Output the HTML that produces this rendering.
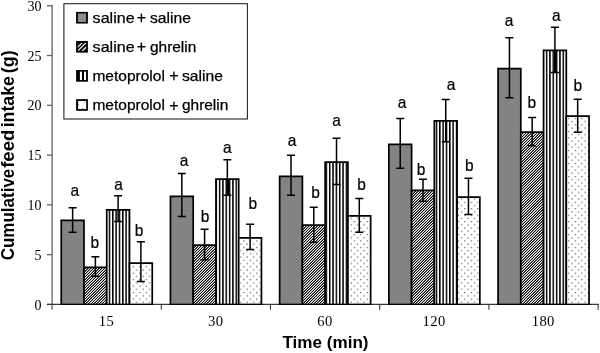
<!DOCTYPE html>
<html><head><meta charset="utf-8"><title>chart</title>
<style>
html,body{margin:0;padding:0;background:#fff;}
svg{display:block;will-change:transform;}
text{font-family:"Liberation Sans",sans-serif;fill:#000;}
.ser{font-family:"Liberation Serif",serif;font-size:14px;}
.xl{font-size:14.6px;letter-spacing:0.35px;}
.lg{font-size:14.3px;stroke:#000;stroke-width:0.25px;}
.lb{font-size:15.5px;text-anchor:middle;stroke:#000;stroke-width:0.2px;}
.ttl{font-weight:bold;font-size:17.5px;}
</style></head><body>
<svg width="600" height="353" viewBox="0 0 600 353">
<defs>
<pattern id="hatch" patternUnits="userSpaceOnUse" width="11" height="11" x="0" y="0"><g shape-rendering="crispEdges"><rect x="0" y="0" width="1" height="1" fill="#7b7b7b"/><rect x="1" y="0" width="1" height="1" fill="#050505"/><rect x="2" y="0" width="1" height="1" fill="#ffffff"/><rect x="3" y="0" width="1" height="1" fill="#222222"/><rect x="4" y="0" width="1" height="1" fill="#555555"/><rect x="5" y="0" width="1" height="1" fill="#ffffff"/><rect x="6" y="0" width="1" height="1" fill="#000000"/><rect x="7" y="0" width="1" height="1" fill="#b3b3b3"/><rect x="8" y="0" width="1" height="1" fill="#d5d5d5"/><rect x="9" y="0" width="1" height="1" fill="#000000"/><rect x="10" y="0" width="1" height="1" fill="#ffffff"/><rect x="0" y="1" width="1" height="1" fill="#050505"/><rect x="1" y="1" width="1" height="1" fill="#ffffff"/><rect x="2" y="1" width="1" height="1" fill="#222222"/><rect x="3" y="1" width="1" height="1" fill="#555555"/><rect x="4" y="1" width="1" height="1" fill="#ffffff"/><rect x="5" y="1" width="1" height="1" fill="#000000"/><rect x="6" y="1" width="1" height="1" fill="#b3b3b3"/><rect x="7" y="1" width="1" height="1" fill="#d5d5d5"/><rect x="8" y="1" width="1" height="1" fill="#000000"/><rect x="9" y="1" width="1" height="1" fill="#ffffff"/><rect x="10" y="1" width="1" height="1" fill="#7b7b7b"/><rect x="0" y="2" width="1" height="1" fill="#ffffff"/><rect x="1" y="2" width="1" height="1" fill="#222222"/><rect x="2" y="2" width="1" height="1" fill="#555555"/><rect x="3" y="2" width="1" height="1" fill="#ffffff"/><rect x="4" y="2" width="1" height="1" fill="#000000"/><rect x="5" y="2" width="1" height="1" fill="#b3b3b3"/><rect x="6" y="2" width="1" height="1" fill="#d5d5d5"/><rect x="7" y="2" width="1" height="1" fill="#000000"/><rect x="8" y="2" width="1" height="1" fill="#ffffff"/><rect x="9" y="2" width="1" height="1" fill="#7b7b7b"/><rect x="10" y="2" width="1" height="1" fill="#050505"/><rect x="0" y="3" width="1" height="1" fill="#222222"/><rect x="1" y="3" width="1" height="1" fill="#555555"/><rect x="2" y="3" width="1" height="1" fill="#ffffff"/><rect x="3" y="3" width="1" height="1" fill="#000000"/><rect x="4" y="3" width="1" height="1" fill="#b3b3b3"/><rect x="5" y="3" width="1" height="1" fill="#d5d5d5"/><rect x="6" y="3" width="1" height="1" fill="#000000"/><rect x="7" y="3" width="1" height="1" fill="#ffffff"/><rect x="8" y="3" width="1" height="1" fill="#7b7b7b"/><rect x="9" y="3" width="1" height="1" fill="#050505"/><rect x="10" y="3" width="1" height="1" fill="#ffffff"/><rect x="0" y="4" width="1" height="1" fill="#555555"/><rect x="1" y="4" width="1" height="1" fill="#ffffff"/><rect x="2" y="4" width="1" height="1" fill="#000000"/><rect x="3" y="4" width="1" height="1" fill="#b3b3b3"/><rect x="4" y="4" width="1" height="1" fill="#d5d5d5"/><rect x="5" y="4" width="1" height="1" fill="#000000"/><rect x="6" y="4" width="1" height="1" fill="#ffffff"/><rect x="7" y="4" width="1" height="1" fill="#7b7b7b"/><rect x="8" y="4" width="1" height="1" fill="#050505"/><rect x="9" y="4" width="1" height="1" fill="#ffffff"/><rect x="10" y="4" width="1" height="1" fill="#222222"/><rect x="0" y="5" width="1" height="1" fill="#ffffff"/><rect x="1" y="5" width="1" height="1" fill="#000000"/><rect x="2" y="5" width="1" height="1" fill="#b3b3b3"/><rect x="3" y="5" width="1" height="1" fill="#d5d5d5"/><rect x="4" y="5" width="1" height="1" fill="#000000"/><rect x="5" y="5" width="1" height="1" fill="#ffffff"/><rect x="6" y="5" width="1" height="1" fill="#7b7b7b"/><rect x="7" y="5" width="1" height="1" fill="#050505"/><rect x="8" y="5" width="1" height="1" fill="#ffffff"/><rect x="9" y="5" width="1" height="1" fill="#222222"/><rect x="10" y="5" width="1" height="1" fill="#555555"/><rect x="0" y="6" width="1" height="1" fill="#000000"/><rect x="1" y="6" width="1" height="1" fill="#b3b3b3"/><rect x="2" y="6" width="1" height="1" fill="#d5d5d5"/><rect x="3" y="6" width="1" height="1" fill="#000000"/><rect x="4" y="6" width="1" height="1" fill="#ffffff"/><rect x="5" y="6" width="1" height="1" fill="#7b7b7b"/><rect x="6" y="6" width="1" height="1" fill="#050505"/><rect x="7" y="6" width="1" height="1" fill="#ffffff"/><rect x="8" y="6" width="1" height="1" fill="#222222"/><rect x="9" y="6" width="1" height="1" fill="#555555"/><rect x="10" y="6" width="1" height="1" fill="#ffffff"/><rect x="0" y="7" width="1" height="1" fill="#b3b3b3"/><rect x="1" y="7" width="1" height="1" fill="#d5d5d5"/><rect x="2" y="7" width="1" height="1" fill="#000000"/><rect x="3" y="7" width="1" height="1" fill="#ffffff"/><rect x="4" y="7" width="1" height="1" fill="#7b7b7b"/><rect x="5" y="7" width="1" height="1" fill="#050505"/><rect x="6" y="7" width="1" height="1" fill="#ffffff"/><rect x="7" y="7" width="1" height="1" fill="#222222"/><rect x="8" y="7" width="1" height="1" fill="#555555"/><rect x="9" y="7" width="1" height="1" fill="#ffffff"/><rect x="10" y="7" width="1" height="1" fill="#000000"/><rect x="0" y="8" width="1" height="1" fill="#d5d5d5"/><rect x="1" y="8" width="1" height="1" fill="#000000"/><rect x="2" y="8" width="1" height="1" fill="#ffffff"/><rect x="3" y="8" width="1" height="1" fill="#7b7b7b"/><rect x="4" y="8" width="1" height="1" fill="#050505"/><rect x="5" y="8" width="1" height="1" fill="#ffffff"/><rect x="6" y="8" width="1" height="1" fill="#222222"/><rect x="7" y="8" width="1" height="1" fill="#555555"/><rect x="8" y="8" width="1" height="1" fill="#ffffff"/><rect x="9" y="8" width="1" height="1" fill="#000000"/><rect x="10" y="8" width="1" height="1" fill="#b3b3b3"/><rect x="0" y="9" width="1" height="1" fill="#000000"/><rect x="1" y="9" width="1" height="1" fill="#ffffff"/><rect x="2" y="9" width="1" height="1" fill="#7b7b7b"/><rect x="3" y="9" width="1" height="1" fill="#050505"/><rect x="4" y="9" width="1" height="1" fill="#ffffff"/><rect x="5" y="9" width="1" height="1" fill="#222222"/><rect x="6" y="9" width="1" height="1" fill="#555555"/><rect x="7" y="9" width="1" height="1" fill="#ffffff"/><rect x="8" y="9" width="1" height="1" fill="#000000"/><rect x="9" y="9" width="1" height="1" fill="#b3b3b3"/><rect x="10" y="9" width="1" height="1" fill="#d5d5d5"/><rect x="0" y="10" width="1" height="1" fill="#ffffff"/><rect x="1" y="10" width="1" height="1" fill="#7b7b7b"/><rect x="2" y="10" width="1" height="1" fill="#050505"/><rect x="3" y="10" width="1" height="1" fill="#ffffff"/><rect x="4" y="10" width="1" height="1" fill="#222222"/><rect x="5" y="10" width="1" height="1" fill="#555555"/><rect x="6" y="10" width="1" height="1" fill="#ffffff"/><rect x="7" y="10" width="1" height="1" fill="#000000"/><rect x="8" y="10" width="1" height="1" fill="#b3b3b3"/><rect x="9" y="10" width="1" height="1" fill="#d5d5d5"/><rect x="10" y="10" width="1" height="1" fill="#000000"/></g></pattern>
<pattern id="vstripe" patternUnits="userSpaceOnUse" width="3.337" height="8" x="1.92" y="0">
<rect width="3.337" height="8" fill="#fff"/><rect x="0" y="0" width="1.5" height="8" fill="#000"/>
</pattern>
<pattern id="dots" patternUnits="userSpaceOnUse" width="6.5" height="6.45" x="2.75" y="1.75">
<rect width="6.5" height="6.45" fill="#fff"/>
<rect x="0" y="0" width="1.15" height="1.15" fill="#505050"/>
<rect x="3.3" y="3.2" width="1.15" height="1.15" fill="#505050"/>
</pattern>
</defs>
<rect width="600" height="353" fill="#fff"/>

<g stroke="#5e5e5e" stroke-width="1.25" fill="none">
<line x1="52.1" y1="5" x2="52.1" y2="309.5"/>
<line x1="46.9" y1="304.45" x2="52.1" y2="304.45"/>
<line x1="46.9" y1="254.67" x2="52.1" y2="254.67"/>
<line x1="46.9" y1="204.89" x2="52.1" y2="204.89"/>
<line x1="46.9" y1="155.11" x2="52.1" y2="155.11"/>
<line x1="46.9" y1="105.33" x2="52.1" y2="105.33"/>
<line x1="46.9" y1="55.55" x2="52.1" y2="55.55"/>
<line x1="46.9" y1="5.77" x2="52.1" y2="5.77"/>
</g>
<g stroke="#383838" stroke-width="1.1" fill="none">
<line x1="161.30" y1="304.3" x2="161.30" y2="309.7"/>
<line x1="270.50" y1="304.3" x2="270.50" y2="309.7"/>
<line x1="379.70" y1="304.3" x2="379.70" y2="309.7"/>
<line x1="488.90" y1="304.3" x2="488.90" y2="309.7"/>
<line x1="598.10" y1="304.3" x2="598.10" y2="309.7"/>
</g>
<text class="ser" x="41.5" y="309.50" text-anchor="end">0</text>
<text class="ser" x="41.5" y="259.72" text-anchor="end">5</text>
<text class="ser" x="41.5" y="209.94" text-anchor="end">10</text>
<text class="ser" x="41.5" y="160.16" text-anchor="end">15</text>
<text class="ser" x="41.5" y="110.38" text-anchor="end">20</text>
<text class="ser" x="41.5" y="60.60" text-anchor="end">25</text>
<text class="ser" x="41.5" y="10.82" text-anchor="end">30</text>
<text class="ser xl" x="106.50" y="325.6" text-anchor="middle">15</text>
<text class="ser xl" x="215.70" y="325.6" text-anchor="middle">30</text>
<text class="ser xl" x="324.90" y="325.6" text-anchor="middle">60</text>
<text class="ser xl" x="434.10" y="325.6" text-anchor="middle">120</text>
<text class="ser xl" x="543.30" y="325.6" text-anchor="middle">180</text>
<rect x="61.25" y="220.40" width="22.75" height="83.90" fill="#838383"/>
<path d="M61.25 304.7 V220.40 H84.00 V304.7" fill="none" stroke="#000" stroke-width="1.7"/>
<rect x="84.00" y="267.30" width="22.75" height="37.00" fill="url(#hatch)"/>
<path d="M84.00 304.7 V267.30 H106.75 V304.7" fill="none" stroke="#000" stroke-width="1.7"/>
<rect x="106.75" y="209.80" width="22.75" height="94.50" fill="url(#vstripe)"/>
<path d="M106.75 304.7 V209.80 H129.50 V304.7" fill="none" stroke="#000" stroke-width="1.7"/>
<rect x="129.50" y="263.20" width="22.75" height="41.10" fill="url(#dots)"/>
<path d="M129.50 304.7 V263.20 H152.25 V304.7" fill="none" stroke="#000" stroke-width="1.7"/>
<rect x="170.45" y="196.40" width="22.75" height="107.90" fill="#838383"/>
<path d="M170.45 304.7 V196.40 H193.20 V304.7" fill="none" stroke="#000" stroke-width="1.7"/>
<rect x="193.20" y="245.20" width="22.75" height="59.10" fill="url(#hatch)"/>
<path d="M193.20 304.7 V245.20 H215.95 V304.7" fill="none" stroke="#000" stroke-width="1.7"/>
<rect x="215.95" y="179.20" width="22.75" height="125.10" fill="url(#vstripe)"/>
<path d="M215.95 304.7 V179.20 H238.70 V304.7" fill="none" stroke="#000" stroke-width="1.7"/>
<rect x="238.70" y="237.80" width="22.75" height="66.50" fill="url(#dots)"/>
<path d="M238.70 304.7 V237.80 H261.45 V304.7" fill="none" stroke="#000" stroke-width="1.7"/>
<rect x="279.65" y="176.40" width="22.75" height="127.90" fill="#838383"/>
<path d="M279.65 304.7 V176.40 H302.40 V304.7" fill="none" stroke="#000" stroke-width="1.7"/>
<rect x="302.40" y="225.20" width="22.75" height="79.10" fill="url(#hatch)"/>
<path d="M302.40 304.7 V225.20 H325.15 V304.7" fill="none" stroke="#000" stroke-width="1.7"/>
<rect x="325.15" y="162.20" width="22.75" height="142.10" fill="url(#vstripe)"/>
<path d="M325.15 304.7 V162.20 H347.90 V304.7" fill="none" stroke="#000" stroke-width="1.7"/>
<rect x="347.90" y="215.80" width="22.75" height="88.50" fill="url(#dots)"/>
<path d="M347.90 304.7 V215.80 H370.65 V304.7" fill="none" stroke="#000" stroke-width="1.7"/>
<rect x="388.85" y="144.40" width="22.75" height="159.90" fill="#838383"/>
<path d="M388.85 304.7 V144.40 H411.60 V304.7" fill="none" stroke="#000" stroke-width="1.7"/>
<rect x="411.60" y="190.40" width="22.75" height="113.90" fill="url(#hatch)"/>
<path d="M411.60 304.7 V190.40 H434.35 V304.7" fill="none" stroke="#000" stroke-width="1.7"/>
<rect x="434.35" y="120.80" width="22.75" height="183.50" fill="url(#vstripe)"/>
<path d="M434.35 304.7 V120.80 H457.10 V304.7" fill="none" stroke="#000" stroke-width="1.7"/>
<rect x="457.10" y="197.20" width="22.75" height="107.10" fill="url(#dots)"/>
<path d="M457.10 304.7 V197.20 H479.85 V304.7" fill="none" stroke="#000" stroke-width="1.7"/>
<rect x="498.05" y="68.60" width="22.75" height="235.70" fill="#838383"/>
<path d="M498.05 304.7 V68.60 H520.80 V304.7" fill="none" stroke="#000" stroke-width="1.7"/>
<rect x="520.80" y="132.20" width="22.75" height="172.10" fill="url(#hatch)"/>
<path d="M520.80 304.7 V132.20 H543.55 V304.7" fill="none" stroke="#000" stroke-width="1.7"/>
<rect x="543.55" y="50.40" width="22.75" height="253.90" fill="url(#vstripe)"/>
<path d="M543.55 304.7 V50.40 H566.30 V304.7" fill="none" stroke="#000" stroke-width="1.7"/>
<rect x="566.30" y="116.20" width="22.75" height="188.10" fill="url(#dots)"/>
<path d="M566.30 304.7 V116.20 H589.05 V304.7" fill="none" stroke="#000" stroke-width="1.7"/>
<line x1="46.9" y1="304.4" x2="599" y2="304.4" stroke="#3a3a3a" stroke-width="1.1"/>
<rect x="226.9" y="179.5" width="2.2" height="15.5" fill="#000"/>
<rect x="553.9" y="50.5" width="2.2" height="22" fill="#000"/>
<line x1="60.40" y1="304.3" x2="153.10" y2="304.3" stroke="#000" stroke-width="1.35"/>
<line x1="169.60" y1="304.3" x2="262.30" y2="304.3" stroke="#000" stroke-width="1.35"/>
<line x1="278.80" y1="304.3" x2="371.50" y2="304.3" stroke="#000" stroke-width="1.35"/>
<line x1="388.00" y1="304.3" x2="480.70" y2="304.3" stroke="#000" stroke-width="1.35"/>
<line x1="497.20" y1="304.3" x2="589.90" y2="304.3" stroke="#000" stroke-width="1.35"/>
<g stroke="#000" stroke-width="1.5" fill="none">
<path d="M68.62 207.79999999999998 H76.62 M68.62 232.2 H76.62 M72.62 207.79999999999998 V232.2"/>
<path d="M91.38 256.8 H99.38 M91.38 276.2 H99.38 M95.38 256.8 V276.2"/>
<path d="M114.12 195.79999999999998 H122.12 M114.12 221.6 H122.12 M118.12 195.79999999999998 V221.6"/>
<path d="M136.88 241.79999999999998 H144.88 M136.88 281.59999999999997 H144.88 M140.88 241.79999999999998 V281.59999999999997"/>
<path d="M177.83 173.6 H185.83 M177.83 216.6 H185.83 M181.83 173.6 V216.6"/>
<path d="M200.58 229.2 H208.58 M200.58 259.8 H208.58 M204.58 229.2 V259.8"/>
<path d="M223.33 159.79999999999998 H231.33 M223.33 195.2 H231.33 M227.33 159.79999999999998 V195.2"/>
<path d="M246.08 224.2 H254.08 M246.08 249.6 H254.08 M250.08 224.2 V249.6"/>
<path d="M287.02 155.2 H295.02 M287.02 195.2 H295.02 M291.02 155.2 V195.2"/>
<path d="M309.77 207.2 H317.77 M309.77 242.2 H317.77 M313.77 207.2 V242.2"/>
<path d="M332.52 138.2 H340.52 M332.52 184.6 H340.52 M336.52 138.2 V184.6"/>
<path d="M355.27 198.6 H363.27 M355.27 232.2 H363.27 M359.27 198.6 V232.2"/>
<path d="M396.23 118.60000000000001 H404.23 M396.23 168.2 H404.23 M400.23 118.60000000000001 V168.2"/>
<path d="M418.98 179.2 H426.98 M418.98 201.2 H426.98 M422.98 179.2 V201.2"/>
<path d="M441.73 99.60000000000001 H449.73 M441.73 141.79999999999998 H449.73 M445.73 99.60000000000001 V141.79999999999998"/>
<path d="M464.48 178.2 H472.48 M464.48 214.6 H472.48 M468.48 178.2 V214.6"/>
<path d="M505.43 37.800000000000004 H513.42 M505.43 97.8 H513.42 M509.43 37.800000000000004 V97.8"/>
<path d="M528.17 117.4 H536.17 M528.17 145.79999999999998 H536.17 M532.17 117.4 V145.79999999999998"/>
<path d="M550.92 27.2 H558.92 M550.92 72.60000000000001 H558.92 M554.92 27.2 V72.60000000000001"/>
<path d="M573.67 99.2 H581.67 M573.67 132.2 H581.67 M577.67 99.2 V132.2"/>
</g>
<text class="lb" transform="translate(74.8,196.4) scale(1,1.12)">a</text>
<text class="lb" transform="translate(94.8,248.4) scale(1,1.12)">b</text>
<text class="lb" transform="translate(118.5,190.4) scale(1,1.12)">a</text>
<text class="lb" transform="translate(139,236.4) scale(1,1.12)">b</text>
<text class="lb" transform="translate(184,166.0) scale(1,1.12)">a</text>
<text class="lb" transform="translate(205.1,221.8) scale(1,1.12)">b</text>
<text class="lb" transform="translate(227.4,153.4) scale(1,1.12)">a</text>
<text class="lb" transform="translate(252.9,209.4) scale(1,1.12)">b</text>
<text class="lb" transform="translate(292,146.0) scale(1,1.12)">a</text>
<text class="lb" transform="translate(315.5,197.8) scale(1,1.12)">b</text>
<text class="lb" transform="translate(336.5,126.0) scale(1,1.12)">a</text>
<text class="lb" transform="translate(361.5,190.4) scale(1,1.12)">b</text>
<text class="lb" transform="translate(402,108.0) scale(1,1.12)">a</text>
<text class="lb" transform="translate(421.1,175.4) scale(1,1.12)">b</text>
<text class="lb" transform="translate(451,90.4) scale(1,1.12)">a</text>
<text class="lb" transform="translate(469.3,171.4) scale(1,1.12)">b</text>
<text class="lb" transform="translate(509,26.4) scale(1,1.12)">a</text>
<text class="lb" transform="translate(531.9,108.0) scale(1,1.12)">b</text>
<text class="lb" transform="translate(556.4,21.4) scale(1,1.12)">a</text>
<text class="lb" transform="translate(577.9,91.4) scale(1,1.12)">b</text>
<rect x="63.9" y="3.7" width="183.5" height="115.3" fill="#fff" stroke="#1c1c1c" stroke-width="1.05"/>
<rect x="76.1" y="11.90" width="11.8" height="11.65" fill="#000"/>
<rect x="77.9" y="13.50" width="8.2" height="8.5" fill="#8c8c8c"/>
<text class="lg" x="92.6" y="22.6" textLength="42" lengthAdjust="spacingAndGlyphs">saline</text>
<text class="lg" style="font-size:16px" x="136.7" y="23.0">+</text>
<text class="lg" x="150" y="22.6" textLength="41" lengthAdjust="spacingAndGlyphs">saline</text>
<rect x="76.1" y="40.98" width="11.8" height="11.65" fill="#000"/>
<clipPath id="sw2"><rect x="77.7" y="42.88" width="8.5" height="8.1"/></clipPath>
<g clip-path="url(#sw2)" stroke="#fff" stroke-width="1.15"><path d="M77.2 47.58 L82.4 42.58 M78 50.58 L86.2 42.58 M81.8 51.38 L86.5 46.78"/></g>
<text class="lg" x="92.6" y="51.8" textLength="42" lengthAdjust="spacingAndGlyphs">saline</text>
<text class="lg" style="font-size:16px" x="136.7" y="52.2">+</text>
<text class="lg" x="150" y="51.8" textLength="46.3" lengthAdjust="spacingAndGlyphs">ghrelin</text>
<rect x="76.1" y="70.06" width="11.8" height="11.65" fill="#000"/>
<rect x="79.9" y="71.66" width="2.05" height="8.4" fill="#fff"/>
<rect x="84.0" y="71.66" width="2.05" height="8.4" fill="#fff"/>
<text class="lg" x="92.4" y="80.9" textLength="72.5" lengthAdjust="spacingAndGlyphs">metoprolol</text>
<text class="lg" style="font-size:16px" x="169.3" y="81.3">+</text>
<text class="lg" x="182" y="80.9" textLength="41" lengthAdjust="spacingAndGlyphs">saline</text>
<rect x="76.1" y="99.14" width="11.8" height="11.65" fill="#000"/>
<rect x="78.1" y="100.94" width="8.1" height="8.1" fill="#fff"/>
<rect x="83.6" y="101.74" width="1.2" height="1" fill="#777"/><rect x="78.1" y="104.14" width="0.8" height="1" fill="#555"/><rect x="82" y="108.34" width="1" height="0.8" fill="#555"/>
<text class="lg" x="92.4" y="110.1" textLength="72.5" lengthAdjust="spacingAndGlyphs">metoprolol</text>
<text class="lg" style="font-size:16px" x="169.3" y="110.5">+</text>
<text class="lg" x="182" y="110.1" textLength="46.3" lengthAdjust="spacingAndGlyphs">ghrelin</text>
<text class="ttl" style="font-size:17px" x="282.5" y="348" textLength="86" lengthAdjust="spacingAndGlyphs">Time (min)</text>
<g transform="translate(14.3,0) rotate(-90)">
<text class="ttl" x="-260.30" y="0" textLength="91.60" lengthAdjust="spacingAndGlyphs">Cumulative</text>
<text class="ttl" x="-167.80" y="0" textLength="38.10" lengthAdjust="spacingAndGlyphs">feed</text>
<text class="ttl" x="-127.30" y="0" textLength="51.10" lengthAdjust="spacingAndGlyphs">intake</text>
<text class="ttl" x="-73.30" y="0" textLength="23.10" lengthAdjust="spacingAndGlyphs">(g)</text>
</g>
</svg></body></html>
